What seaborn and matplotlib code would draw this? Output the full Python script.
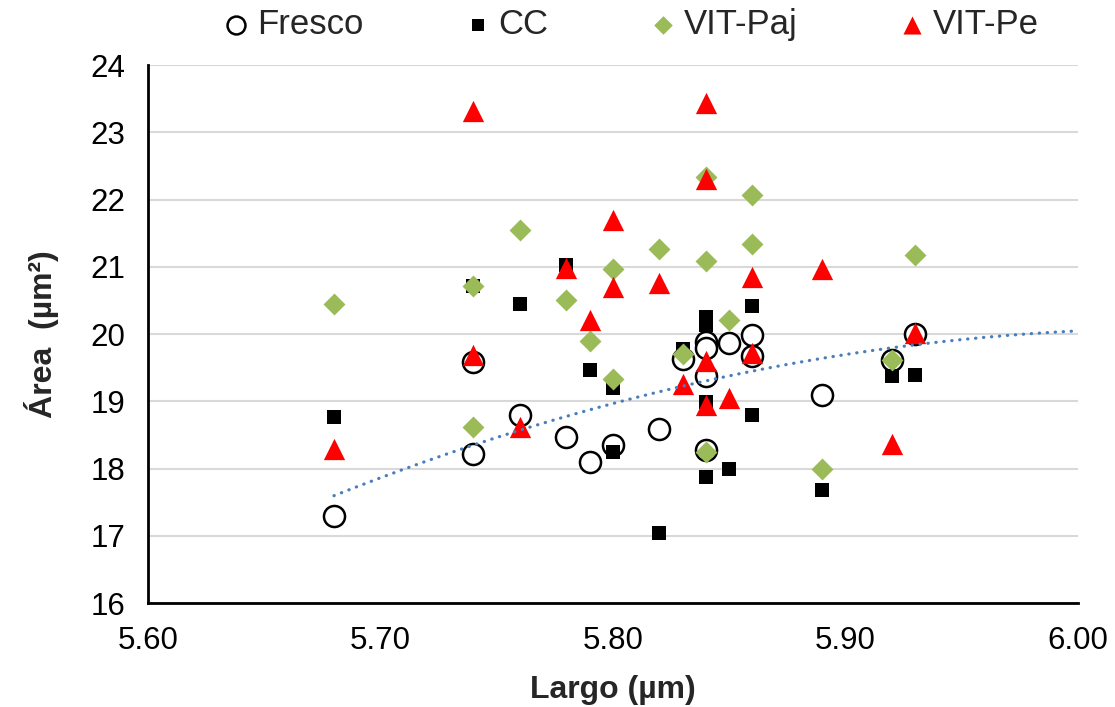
import numpy as np
import pandas as pd
import matplotlib
matplotlib.use('Agg')
import matplotlib.pyplot as plt
import seaborn as sns

# valores: Largo (µm) y Área (µm²) por tratamiento
fresco_largo = [5.68, 5.74, 5.74, 5.76, 5.78, 5.79, 5.80, 5.82, 5.83, 5.84,
                5.84, 5.84, 5.84, 5.85, 5.86, 5.86, 5.89, 5.92, 5.93]
fresco_area = [17.30, 19.59, 18.22, 18.80, 18.47, 18.10, 18.35, 18.59, 19.63, 19.88,
               19.79, 19.37, 18.27, 19.87, 19.99, 19.67, 19.10, 19.62, 20.00]

cc_largo = [5.68, 5.74, 5.76, 5.78, 5.79, 5.80, 5.80, 5.82, 5.83, 5.84,
            5.84, 5.84, 5.84, 5.85, 5.86, 5.86, 5.89, 5.92, 5.93]
cc_area = [18.77, 20.72, 20.44, 21.02, 19.46, 19.20, 18.25, 17.04, 19.78, 20.26,
           20.13, 18.99, 17.87, 17.99, 20.42, 18.80, 17.68, 19.37, 19.39]

paj_largo = [5.68, 5.74, 5.74, 5.76, 5.78, 5.79, 5.80, 5.80, 5.82, 5.83,
             5.84, 5.84, 5.84, 5.85, 5.86, 5.86, 5.89, 5.92, 5.93]
paj_area = [20.44, 20.72, 18.62, 21.55, 20.50, 19.89, 20.97, 19.33, 21.27, 19.70,
            22.34, 21.08, 18.24, 20.21, 22.06, 21.34, 18.00, 19.62, 21.17]

pe_largo = [5.68, 5.74, 5.74, 5.76, 5.78, 5.79, 5.80, 5.80, 5.82, 5.83,
            5.84, 5.84, 5.84, 5.84, 5.85, 5.86, 5.86, 5.89, 5.92, 5.93]
pe_area = [18.29, 23.31, 19.69, 18.62, 20.98, 20.21, 21.70, 20.70, 20.76, 19.25,
           23.43, 22.31, 19.60, 18.94, 19.05, 20.85, 19.72, 20.96, 18.36, 20.02]

series = [
    ('Fresco', fresco_largo, fresco_area, dict(marker='o', s=230, color='white', edgecolor='black', linewidth=1.8)),
    ('CC', cc_largo, cc_area, dict(marker='s', s=100, color='black', edgecolor='black', linewidth=0)),
    ('VIT-Paj', paj_largo, paj_area, dict(marker='D', s=125, color='#9BBB59', edgecolor='#9BBB59', linewidth=0)),
    ('VIT-Pe', pe_largo, pe_area, dict(marker='^', s=235, color='#FF0000', edgecolor='#FF0000', linewidth=0)),
]

sns.set_style('white')
plt.rcParams['font.family'] = ['Liberation Sans', 'DejaVu Sans']

fig = plt.figure(figsize=(11.15, 7.07), dpi=100)
ax = fig.add_axes([0.1327, 0.1471, 0.8341, 0.7609])

for name, xs, ys, style in series:
    df = pd.DataFrame({'Largo': xs, 'Area': ys})
    sns.scatterplot(data=df, x='Largo', y='Area', ax=ax, label=name, zorder=3, **style)

# línea de tendencia polinómica (orden 2) de la serie Fresco
coef = np.polyfit(fresco_largo, fresco_area, 2)
xt = np.linspace(min(fresco_largo), 6.00, 200)
ax.plot(xt, np.polyval(coef, xt), color='#4A7EBB', linewidth=2.3,
        linestyle=(0, (0.1, 2.4)), dash_capstyle='round', zorder=4)

ax.set_xlim(5.60, 6.00)
ax.set_ylim(16, 24)
ax.set_xticks(np.arange(5.60, 6.001, 0.10))
ax.set_xticklabels([f'{v:.2f}' for v in np.arange(5.60, 6.001, 0.10)])
ax.set_yticks(range(16, 25))

ax.grid(axis='y', color='#D9D9D9', linewidth=1.5)
ax.grid(axis='x', visible=False)
ax.set_axisbelow(True)
for side in ['top', 'right']:
    ax.spines[side].set_visible(False)
for side in ['left', 'bottom']:
    ax.spines[side].set_color('black')
    ax.spines[side].set_linewidth(2.0)
ax.tick_params(axis='both', direction='out', length=6.5, width=2.0, color='black',
               labelsize=22.5, labelcolor='black', pad=10)
ax.tick_params(axis='x', pad=10)

ax.set_xlabel('Largo (µm)', fontsize=23, fontweight='bold', labelpad=14)
ax.set_ylabel('Área  (µm²)', fontsize=23, fontweight='bold', labelpad=22)

ax.legend(loc='center', bbox_to_anchor=(0.567, 0.965), bbox_transform=fig.transFigure,
          ncol=4, frameon=False, fontsize=25, handlelength=0.6, handletextpad=0.3,
          columnspacing=3.0, markerscale=0.85, borderaxespad=0)

fig.savefig('out.png', dpi=100)
